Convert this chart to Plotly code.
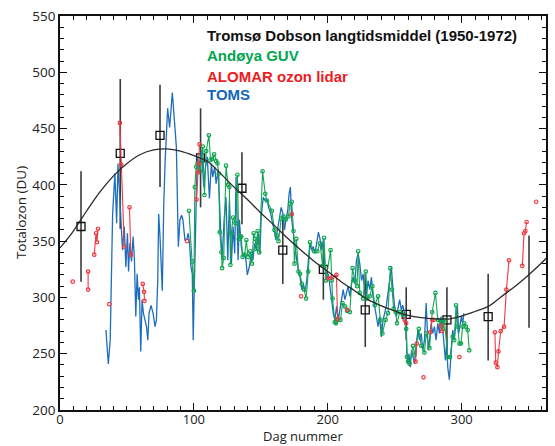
import plotly.graph_objects as go

# ---------------- data ----------------
clim_day = [0, 10, 20, 30, 40, 50, 60, 70, 80, 90, 100, 110, 120, 130, 140, 150,
            160, 170, 180, 190, 200, 210, 220, 230, 240, 250, 260, 270, 280, 290,
            300, 310, 320, 330, 340, 350, 360, 365]
clim_val = [344, 359, 377, 394, 408, 419, 427, 431, 432, 430, 426, 421, 410, 398,
            387, 375, 364, 352.5, 342, 332, 323, 314, 306, 298, 292.5, 288, 284,
            282, 281, 280.8, 283.5, 287.5, 292, 301, 310, 320, 331, 337]

month_day = [15.7, 45, 74.7, 105, 135.9, 166.4, 196.7, 228, 258.6, 289, 319.8, 350.3]
month_mean = [363, 428, 444, 424, 397, 342, 325, 289, 285, 280, 283, 314]
month_hi = [412, 494, 489, 468, 429, 372, 345, 321, 309, 309, 321, 355]
month_lo = [314, 361, 398, 380, 365, 312, 298, 256, 262, 250, 244, 273]
month_shown = [1, 1, 1, 1, 1, 1, 1, 1, 1, 1, 1, 0]

toms_day = [34.3, 36.1, 37.5, 39.3, 41.0, 42.3, 43.3, 44.5, 45.5, 46.7, 48.0, 49.2,
            50.4, 51.2, 52.2, 53.4, 54.6, 55.6, 56.6, 57.6, 58.6, 59.3, 60.3, 61.3,
            62.3, 63.3, 64.6, 65.6, 66.5, 68.0, 69.5, 71.0, 72.0, 73.0, 73.7, 74.7,
            75.7, 76.4, 77.5, 78.5, 80.4, 81.9, 83.9, 85.4, 86.9, 87.9, 88.4, 89.6,
            90.8, 91.8, 93.3, 94.8, 95.8, 96.8, 97.8, 98.8, 99.5, 100.3, 100.7, 101.5,
            102.5, 103.7, 105.7, 107.4, 108.7, 110, 111.6, 113.1, 114.1, 115.6, 116.6,
            118.1, 119.6, 121, 122.6, 124, 125.3, 126.5, 128, 129.3, 130.5, 131.5, 133,
            134, 135.4, 136.7, 137.9, 138.9, 139.9, 141.4, 142.9, 144.1, 145.4, 146.8,
            148.1, 149.3, 150.3, 151.8, 153.3, 154.8, 155.8, 157.3, 158.7, 160, 161.2,
            162.7, 163.7, 165.2, 166.4, 167.7, 168.6, 170.1, 171.1, 172.1, 173.1,
            174.4, 175.6, 176.8, 178.1, 179.3, 180.6, 181.8, 183, 184.3, 185.5, 186.7,
            188, 189.2, 190.5, 191.7, 193, 194.2, 195.4, 196.7, 197.9, 199.1, 200.4,
            201.6, 202.8, 204.1, 205.3, 206.6, 207.8, 209, 210.3, 211.5, 212.8, 214,
            215.2, 216.5, 217.7, 219, 220.2, 221.4, 222.7, 223.9, 225.2, 226.4, 227.6,
            228.9, 230.1, 231.4, 232.6, 233.8, 235.1, 236.3, 237.6, 238.8, 240, 241.3,
            242.5, 243.7, 245, 246.2, 247.5, 248.7, 249.9, 251.2, 252.4, 253.7, 254.9,
            256, 257.4, 258.6, 259.1, 259.9, 260.6, 261.6, 262.6, 263.6, 264.8, 266,
            267.3, 268.5, 269.8, 271, 272.2, 273.5, 274.2, 275, 276, 277.2, 278.4,
            279.7, 280.9, 282.2, 283.4, 284.6, 285.9, 287.1, 287.9, 288.9, 289.6,
            290.8, 291.6, 292.6, 293.3, 294.5, 295.8, 296.8, 297.8, 298.8, 299.8,
            300.7, 301.7]
toms_val = [271, 241, 262, 374, 410, 366, 419, 392, 360, 342, 363, 327,
            357, 323, 348, 332, 354, 333, 283, 321, 298, 309, 252, 298,
            286, 280, 274, 262, 286, 293, 286, 274, 280, 315, 374, 354,
            330, 306, 383, 420, 468, 451, 482, 460, 434, 374, 345, 369,
            373, 369, 351, 352, 357, 348, 327, 321, 262, 309, 330, 390,
            425, 413, 431, 398, 416, 425, 388, 419, 407, 416, 401,
            413, 375, 333, 369, 389, 333, 386, 330, 363, 339, 407, 333,
            369, 345, 336, 339, 333, 320, 327, 339, 333, 348, 342,
            357, 339, 372, 389, 386, 386, 380, 375, 366, 360, 351,
            360, 369, 380, 375, 360, 369, 377, 392, 398, 369,
            356, 342, 333, 324, 318, 307, 312, 305, 315, 333, 348,
            342, 345, 339, 348, 358, 352, 342, 351, 327, 315, 321,
            310, 298, 286, 280, 292, 280, 289, 301, 307, 298, 304,
            310, 301, 312, 318, 312, 333, 339, 330, 315, 321, 304,
            301, 315, 307, 318, 301, 292, 280, 274, 283, 265, 280,
            286, 292, 304, 315, 327, 307, 292, 283, 292, 298, 289,
            293, 286, 274, 253, 241, 250, 238, 253, 247, 241, 256,
            271, 262, 268, 253, 262, 295, 277, 253, 262, 277, 268,
            274, 262, 277, 268, 283, 271, 253, 244, 262, 238,
            227, 244, 262, 271, 262, 277, 292, 268, 277, 283,
            277, 286]

guv_day = [96.3, 98.8, 100, 100.7, 101.7, 102.7, 104.5, 106.7, 107.9, 109.2, 111.2,
           112.4, 113.6, 115.1, 116.6, 117.6, 118.6, 119.3, 120.6, 121.1, 122.3, 124,
           125.5, 126.5, 127.3, 128, 129.2, 131, 132.5, 133.5, 134.7, 135.4, 136.4,
           137.9, 139.2, 140.4, 142.1, 143.4, 144.6, 145.8, 146.6, 147.6, 148.8, 151.3,
           153.3, 154.5, 158.2, 160.2, 162, 163.2, 165.2, 166.9, 168.6, 170.6, 171.9,
           173.1, 174.4, 175.1, 176.5, 178.1, 179.3, 180.6, 182.3, 183.8, 185.5, 186.7,
           189.7, 192.2, 194.2, 196.2, 197.2, 198.6, 202.1, 202.9, 203.6, 205.3, 206.1,
           207.3, 209.5, 211, 212.8, 214.5, 216.5, 218.5, 220.2, 221.9, 222.7, 223.9,
           226.4, 228.4, 229.4, 231.4, 233.3, 235.1, 237.6, 239.3, 240.8, 243.2, 245,
           246.7, 248, 249.2, 250.7, 251.7, 253.7, 256, 258.6, 259.1, 259.9, 261.1,
           263.6, 264.8, 268, 269.8, 272.2, 273.5, 276, 278, 280.4, 282.2, 284.6,
           285.9, 287.1, 289.6, 291.3, 293.3, 294.5, 295.8, 297, 298.3, 299.5, 300.7,
           301.9, 303.2, 304.5, 305.7]
guv_val = [377, 332, 306, 398, 416, 419, 412, 434, 391, 430, 444,
           422, 423, 427, 421, 419, 410, 358, 340, 326, 335, 417,
           400, 398, 329, 357, 371, 366, 409, 352, 354, 354, 336,
           338, 351, 336, 341, 330, 357, 352, 343, 359, 340, 412,
           392, 386, 377, 360, 355, 350, 370, 372, 369, 372, 383,
           385, 359, 330, 352, 323, 321, 312, 307, 299, 323, 349,
           341, 341, 348, 328, 353, 315, 342, 315, 299, 278, 277,
           280, 280, 295, 292, 288, 287, 326, 315, 310, 341, 304,
           299, 323, 299, 301, 310, 293, 301, 280, 268, 280, 286,
           326, 307, 290, 287, 277, 287, 285, 272, 247, 243, 241,
           257, 249, 272, 257, 251, 268, 255, 287, 304, 280, 278,
           272, 280, 247, 247, 265, 262, 293, 274, 259, 259, 274,
           277, 274, 271, 253]

lidar_day = [9.5, None, 21, 21, None, 25.6, 26.9, 27.6, 28.4, None, 36.8, None,
             44.7, 45.7, 48, None, 51.9, 52.9, None, 61.8, 62.8, 63.1, None, 95, None,
             102, 103, 103.7, 104.2, None, 173.1, None, 180.1, None,
             200.2, 203.4, 206.5, 207.3, None, 214.5, None, 257.4, 258.6, None,
             266.5, 265.6, None, 271.5, None, 276.5, 278, 279, None, 284.6, 285.4, None,
             298.3, None, 324.8, 325.5, 326.7, 327.5, 329.2, 331.7, 333.4, 335.4, None,
             345.3, 346.6, 347.6, 348.5, None, 355.7]
lidar_val = [314, None, 323, 307, None, 338, 357, 349, 361, None, 294, None,
             455, 418, 345, None, 380, 338, None, 312, 305, 297, None, 350, None,
             387, 411, 419, 436, None, 374, None, 301, None,
             317, 318, 320, 281, None, 289, None, 280, 277, None,
             259, 243, None, 229, None, 269, 280, 280, None, 275, 270, None,
             247, None, 269, 242, 238, 252, 270, 274, 307, 333, None,
             328, 357, 359, 367, None, 385]

legend_lines = ["Tromsø Dobson langtidsmiddel (1950-1972)", "Andøya GUV",
                "ALOMAR ozon lidar", "TOMS"]
legend_colors = ["#111111", "#00a651", "#ed1c24", "#1565b8"]

# ---------------- figure ----------------
fig = go.Figure()

fig.add_trace(go.Scatter(
    x=month_day, y=month_mean, mode="markers",
    marker=dict(symbol="square-open", size=8, color="#111111",
                opacity=month_shown, line=dict(width=1.3)),
    error_y=dict(type="data", symmetric=False,
                 array=[h - m for h, m in zip(month_hi, month_mean)],
                 arrayminus=[m - l for m, l in zip(month_mean, month_lo)],
                 width=0, thickness=1.6, color="#3a3a3a"),
    showlegend=False, hoverinfo="skip"))

fig.add_trace(go.Scatter(
    x=toms_day, y=toms_val, mode="lines",
    line=dict(color="#1f6dbd", width=1.3), showlegend=False))

fig.add_trace(go.Scatter(
    x=guv_day, y=guv_val, mode="lines+markers",
    line=dict(color="#13a552", width=1.1),
    marker=dict(symbol="circle-open", size=3.5, color="#13a552", line=dict(width=1.2)),
    showlegend=False))

fig.add_trace(go.Scatter(
    x=lidar_day, y=lidar_val, mode="lines+markers", connectgaps=False,
    line=dict(color="#ee3b43", width=1.1),
    marker=dict(symbol="circle-open", size=3.5, color="#ee3b43", line=dict(width=1.2)),
    showlegend=False))

fig.add_trace(go.Scatter(
    x=clim_day, y=clim_val, mode="lines", line_shape="spline",
    line=dict(color="#2a2a2a", width=1.3), showlegend=False))

fig.update_xaxes(range=[0, 363], tickmode="linear", tick0=0, dtick=100,
                 ticks="inside", ticklen=7, ticklabelstandoff=-3,
                 tickwidth=1.3, tickcolor="#111", showline=True, linecolor="#111",
                 linewidth=1.6, mirror="ticks", showgrid=False, zeroline=False,
                 tickfont=dict(family="Open Sans", size=13, color="#222222"),
                 minor=dict(ticks="inside", dtick=10, tick0=0, ticklen=4,
                            tickwidth=1.1, tickcolor="#111", showgrid=False))
fig.update_yaxes(range=[200, 550], tickmode="linear", tick0=200, dtick=50,
                 ticks="inside", ticklen=7,
                 tickwidth=1.3, tickcolor="#111", showline=True, linecolor="#111",
                 linewidth=1.6, mirror="ticks", showgrid=False, zeroline=False,
                 tickfont=dict(family="Open Sans", size=13.5, color="#222222"),
                 minor=dict(ticks="inside", dtick=10, tick0=200, ticklen=4,
                            tickwidth=1.1, tickcolor="#111", showgrid=False))

annotations = []
legend_y = [533, 514.5, 496.5, 480]
for txt, col, yv in zip(legend_lines, legend_colors, legend_y):
    annotations.append(dict(x=108, y=yv, xref="x", yref="y", text="<b>" + txt + "</b>",
                            showarrow=False, xanchor="left", yanchor="middle",
                            font=dict(family="Liberation Sans", size=15, color=col)))
annotations.append(dict(x=0.5, y=-0.0914, xref="paper", yref="paper", text="Dag nummer",
                        showarrow=False, xanchor="center", yanchor="bottom",
                        borderpad=0,
                        font=dict(family="Open Sans", size=13, color="#222")))
annotations.append(dict(x=-0.08, y=0.5, xref="paper", yref="paper", text="Totalozon (DU)",
                        showarrow=False, xanchor="center", yanchor="middle", textangle=-90,
                        font=dict(family="Open Sans", size=13.5, color="#222")))

fig.update_layout(width=555, height=446, margin=dict(l=60, r=7, t=16, b=36),
                  paper_bgcolor="white", plot_bgcolor="white",
                  annotations=annotations, showlegend=False)

fig.write_html("out.html")
